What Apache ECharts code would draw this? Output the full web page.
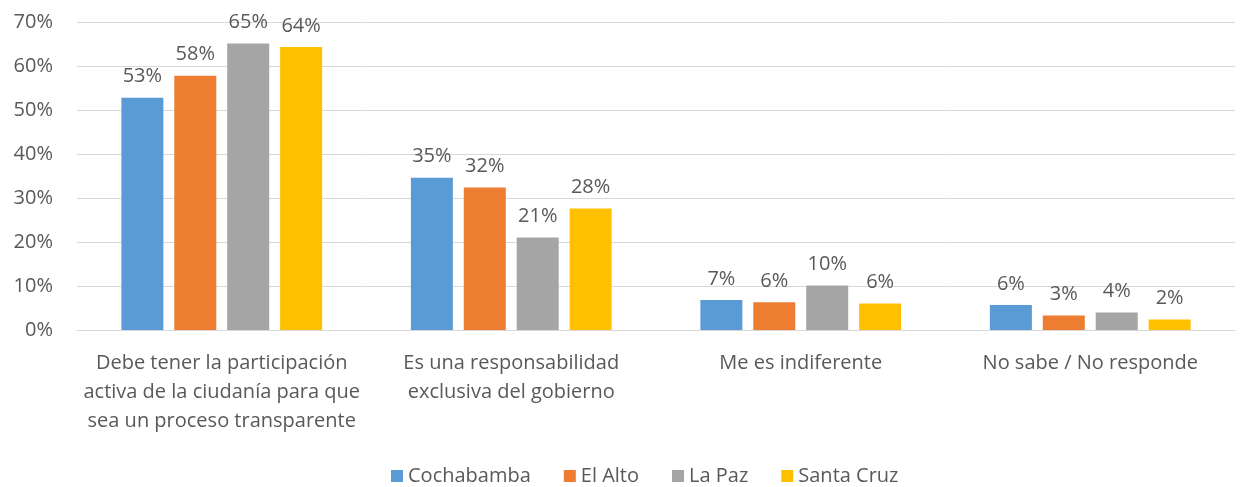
<!DOCTYPE html>
<html>
<head>
<meta charset="utf-8">
<script src="https://cdn.jsdelivr.net/npm/echarts@6/dist/echarts.min.js"></script>
<style>
  html, body { margin: 0; padding: 0; background: #fff; }
  #chart { width: 1249px; height: 487px; }
</style>
</head>
<body>
<div id="chart"></div>
<script>
const categories = [
  'Debe tener la participación\nactiva de la ciudanía para que\nsea un proceso transparente',
  'Es una responsabilidad\nexclusiva del gobierno',
  'Me es indiferente',
  'No sabe / No responde'
]
const cochabamba = [52.8, 34.6, 6.8, 5.7]
const elAlto = [57.8, 32.4, 6.3, 3.3]
const laPaz = [65.1, 21.0, 10.1, 4.0]
const santaCruz = [64.3, 27.6, 6.0, 2.4]
const seriesNames = ['Cochabamba', 'El Alto', 'La Paz', 'Santa Cruz']
const colors = ['#5B9BD5', '#ED7D31', '#A5A5A5', '#FFC000']

const font = '"Open Sans", "Noto Sans", sans-serif'
const dom = echarts.init(document.getElementById('chart'))

const makeSeries = (name, data, i) => ({
  name: name,
  type: 'bar',
  data: data,
  barWidth: 42,
  barGap: '26%',
  itemStyle: { color: colors[i] },
  label: {
    show: true,
    position: 'top',
    distance: 11,
    color: '#595959',
    fontFamily: font,
    fontSize: 20,
    formatter: p => Math.round(p.value) + '%'
  }
})

const option = {
  animation: false,
  grid: {
    left: 77,
    right: 14,
    top: 22,
    bottom: 157,
    containLabel: false
  },
  legend: {
    top: 461,
    left: 386,
    itemWidth: 12,
    itemHeight: 12,
    itemGap: 33,
    icon: 'rect',
    textStyle: { color: '#595959', fontSize: 20, fontFamily: font },
    data: seriesNames
  },
  xAxis: {
    type: 'category',
    data: categories,
    axisLine: { lineStyle: { color: '#D9D9D9' } },
    axisTick: { show: false },
    axisLabel: {
      color: '#595959',
      fontFamily: font,
      fontSize: 20,
      lineHeight: 29,
      margin: 19,
      interval: 0
    }
  },
  yAxis: {
    type: 'value',
    min: 0,
    max: 70,
    interval: 10,
    axisLine: { show: false },
    axisTick: { show: false },
    splitLine: { lineStyle: { color: '#D9D9D9' } },
    axisLabel: {
      color: '#595959',
      fontFamily: font,
      fontSize: 20,
      margin: 24,
      formatter: '{value}%'
    }
  },
  series: [
    makeSeries(seriesNames[0], cochabamba, 0),
    makeSeries(seriesNames[1], elAlto, 1),
    makeSeries(seriesNames[2], laPaz, 2),
    makeSeries(seriesNames[3], santaCruz, 3)
  ]
}
dom.setOption(option)
</script>
</body>
</html>
